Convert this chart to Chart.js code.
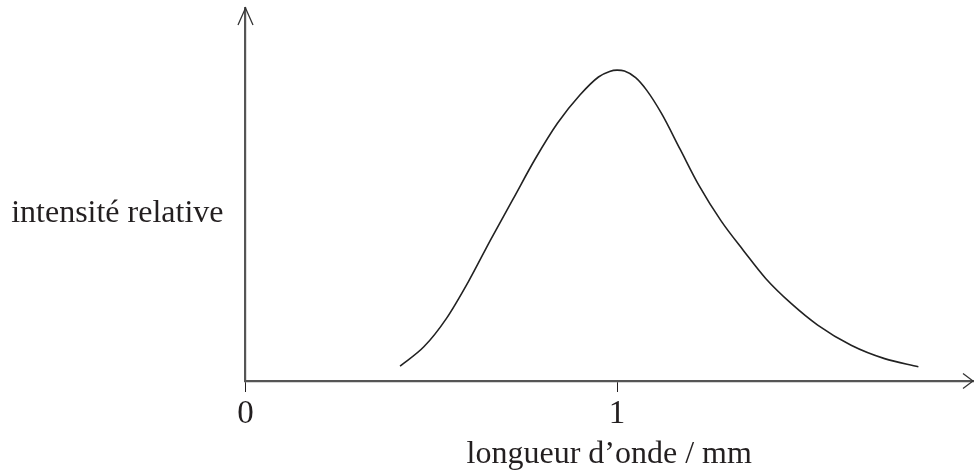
<!DOCTYPE html>
<html>
<head>
<meta charset="utf-8">
<script src="https://cdn.jsdelivr.net/npm/chart.js@4"></script>
<style>
html,body{margin:0;padding:0;background:#fff;}
#wrap{width:974px;height:473px;position:relative;}
</style>
</head>
<body>
<div id="wrap"><canvas id="c"></canvas></div>
<script>
// wavelength (mm)
const wavelength = [0.416,0.48,0.54,0.60,0.66,0.72,0.78,0.84,0.90,0.95,0.98,1.00,1.02,1.05,1.08,1.12,1.17,1.22,1.28,1.34,1.40,1.47,1.54,1.63,1.72,1.811];
// relative intensity
const intensity  = [0.048,0.11,0.20,0.32,0.455,0.585,0.715,0.83,0.92,0.978,0.996,1.00,0.997,0.976,0.935,0.86,0.745,0.63,0.515,0.42,0.33,0.248,0.18,0.115,0.072,0.046];
const xTickValues = [0, 1];
const xTitle = "longueur d’onde / mm";
const yTitle = "intensité relative";

const INK = '#231f20';
const AXIS = '#555555';
const FONT = 'Liberation Serif';

const arrows = {
  id: 'arrows',
  afterDraw(chart) {
    const {ctx, chartArea: a} = chart;
    ctx.save();
    ctx.strokeStyle = '#333';
    ctx.lineWidth = 1.3;
    ctx.beginPath();
    ctx.moveTo(a.left - 7.5, a.top + 17);
    ctx.lineTo(a.left, a.top);
    ctx.lineTo(a.left + 7.5, a.top + 17);
    ctx.moveTo(a.right - 10, a.bottom - 7.5);
    ctx.lineTo(a.right, a.bottom);
    ctx.lineTo(a.right - 10, a.bottom + 7.5);
    ctx.stroke();
    // y axis label (horizontal)
    ctx.fillStyle = INK;
    ctx.font = '32px "' + FONT + '"';
    ctx.textAlign = 'right';
    ctx.textBaseline = 'alphabetic';
    ctx.fillText(yTitle, a.left - 22, 222);
    ctx.restore();
  }
};

new Chart(document.getElementById('c'), {
  type: 'line',
  data: {
    datasets: [{
      data: wavelength.map((x, i) => ({x, y: intensity[i]})),
      borderColor: '#222',
      borderWidth: 1.6,
      pointRadius: 0,
      fill: false,
      cubicInterpolationMode: 'monotone'
    }]
  },
  options: {
    responsive: true,
    maintainAspectRatio: false,
    animation: false,
    layout: {padding: {left: 0, right: 1, top: 8, bottom: 0}},
    plugins: {legend: {display: false}, tooltip: {enabled: false}},
    scales: {
      x: {
        type: 'linear',
        min: 0, max: 1.958,
        afterBuildTicks: s => { s.ticks = xTickValues.map(v => ({value: v})); },
        afterFit: s => { s.height = 92; },
        border: {display: true, color: AXIS, width: 2.2},
        grid: {display: true, drawOnChartArea: false, drawTicks: true, tickLength: 11, color: INK, lineWidth: 1},
        ticks: {color: INK, font: {family: FONT, size: 33}, padding: 3, maxRotation: 0,
                callback: v => String(v)},
        title: {display: true, text: xTitle, color: INK, font: {family: FONT, size: 32}, padding: {top: 0, bottom: -1}}
      },
      y: {
        type: 'linear',
        min: 0, max: 1.2,
        afterFit: s => { s.width = 245.5; },
        border: {display: true, color: AXIS, width: 2.2},
        grid: {display: false},
        ticks: {display: false}
      }
    }
  },
  plugins: [arrows]
});
</script>
</body>
</html>
